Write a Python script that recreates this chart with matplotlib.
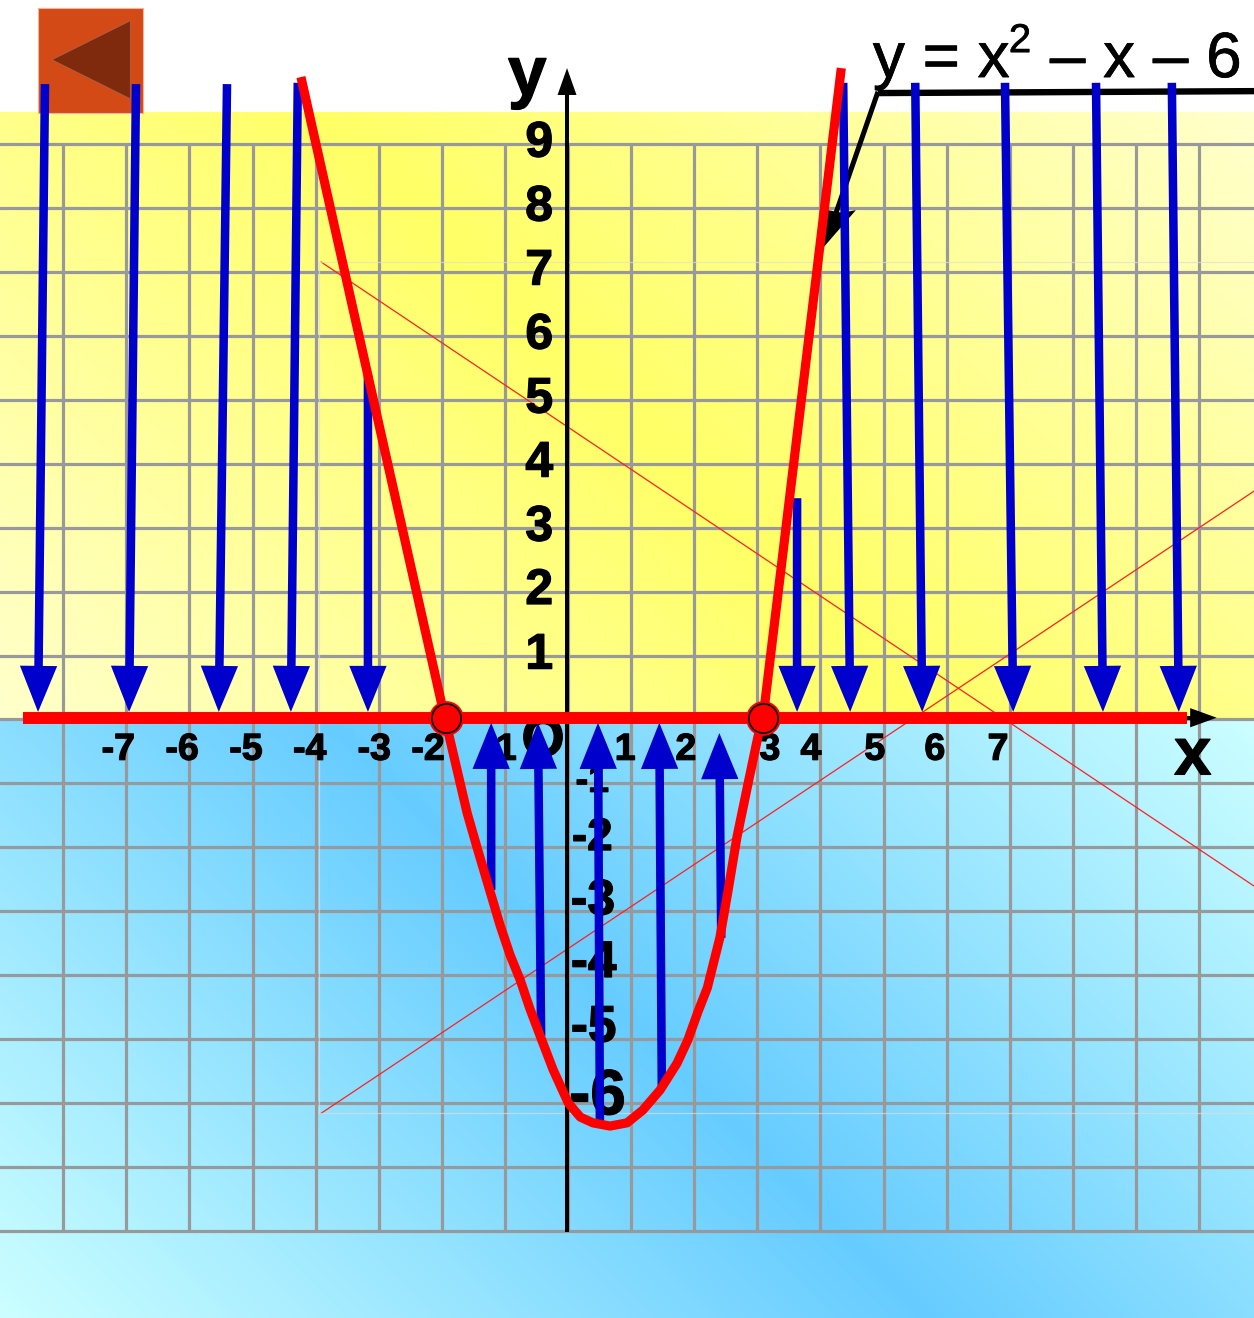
import numpy as np
from matplotlib import pyplot as plt
from matplotlib.patches import Rectangle, Polygon
import matplotlib.patheffects as pe

# curve
curve_x = [-4.21, -1.93, -1.85, -1.72, -1.58, -1.42, -1.27, -1.06, -0.90, -0.74, -0.59, -0.46, -0.22,
           0.02, 0.21, 0.41, 0.68, 0.95, 1.20, 1.47, 1.74, 1.91, 2.07, 2.22, 2.42, 2.55, 2.69, 2.86, 3.02,
           3.10, 4.34]
curve_y = [10.03, 0.0, -0.33, -0.88, -1.47, -2.02, -2.52, -3.22, -3.69, -4.08, -4.52, -4.86, -5.48,
           -6.0, -6.22, -6.31, -6.36, -6.31, -6.11, -5.80, -5.38, -5.02, -4.58, -4.20, -3.41, -2.67, -1.84,
           -1.03, -0.28, 0.0, 10.17]
roots_x = [-1.92, 3.10]
roots_y = [0.02, 0.02]

# blue arrows
down_x0 = [-8.26, -6.82, -5.38, -4.26, -3.15, 3.64, 4.37, 5.51, 6.93, 8.37, 9.57]
down_x1 = [-8.37, -6.93, -5.51, -4.37, -3.15, 3.64, 4.48, 5.62, 7.06, 8.48, 9.68]
down_y0 = [9.92, 9.92, 9.92, 9.94, 5.38, 3.45, 9.94, 9.94, 9.94, 9.94, 9.94]
down_y1 = [0.11] * 11
up_x0 = [-1.20, -0.41, 0.52, 1.50, 2.44]
up_x1 = [-1.20, -0.46, 0.49, 1.46, 2.41]
up_y0 = [-2.67, -4.95, -6.30, -5.77, -3.42]
up_y1 = [-0.06, -0.06, -0.06, -0.06, -0.22]

# labels
x_labels = ['-7', '-6', '-5', '-4', '-3', '-2', '-1', '1', '2', '3', '4', '5', '6', '7']
x_label_pos = [-7.10, -6.09, -5.08, -4.07, -3.05, -2.2, -1.06, 0.92, 1.88, 3.21, 3.86, 4.87, 5.82, 6.82]
y_labels = ['1', '2', '3', '4', '5', '6', '7', '8', '9']
y_label_pos = [0.99, 2.0, 2.99, 3.99, 4.99, 5.99, 6.99, 7.99, 8.99]
neg_labels = ['-1', '-2', '-3', '-4', '-5', '-6']
neg_label_x = [0.40, 0.40, 0.41, 0.42, 0.42, 0.48]
neg_label_y = [-0.98, -1.86, -2.85, -3.82, -4.83, -5.91]
neg_label_size = [27, 33, 36, 37, 37, 46]

plt.rcParams['font.family'] = ['Liberation Sans', 'DejaVu Sans']

fig = plt.figure(figsize=(12.54, 13.18), dpi=100)
ax = fig.add_axes([0, 0, 1, 1])
ax.axis('off')

heavy = [pe.withStroke(linewidth=0.9, foreground='black')]
thin_stroke = [pe.withStroke(linewidth=0.5, foreground='black')]


# diagonal gradient, pale at both ends and strong in the middle
def gradient(pale, strong, h):
    xx, yy = np.meshgrid(np.linspace(0, 1254, 627), np.linspace(0, h, h // 2))
    t = 1 - np.abs(xx + yy - 927) / 927
    t = np.clip(t, 0, 1)[..., None]
    return (np.array(pale) + (np.array(strong) - np.array(pale)) * t) / 255


ax.imshow(gradient((255, 255, 204), (255, 255, 102), 606), extent=(-8.972, 10.870, 0.0, 9.47),
          aspect='auto', zorder=0, origin='lower')
ax.imshow(gradient((204, 255, 255), (102, 204, 255), 599), extent=(-8.972, 10.870, -9.359, 0.0),
          aspect='auto', zorder=0, origin='lower')
ax.set_xlim(-8.972, 10.870)
ax.set_ylim(-9.359, 11.234)

# grid
for gx in range(-8, 11):
    ax.plot([gx * 0.9984 + 0.016] * 2, [-8.02, 8.98], color='#999999', lw=2.3, zorder=1, solid_capstyle='butt')
for gy in range(-8, 10):
    ax.plot([-8.972, 10.870], [gy - 0.02 * (gy > 0)] * 2, color='#999999', lw=2.3, zorder=1)

# thin leftover lines
ax.plot([-3.89, 10.87], [7.14, -2.61], color='#ff2020', lw=0.9, zorder=2)
ax.plot([-3.89, 10.87], [-6.16, 3.56], color='#ff2020', lw=0.9, zorder=2)
ax.plot([10.87, -3.92, -3.92, 10.87], [7.14, 7.14, -6.16, -6.16], color='#dddddd', lw=0.9, alpha=0.7, zorder=2)

# button
ax.add_patch(Rectangle((-8.37, 9.47), 1.66, 1.64, fc='#D34A17', ec='#EDB59C', lw=0.8, zorder=2))
ax.add_patch(Polygon([(-8.15, 10.30), (-6.91, 10.91), (-6.91, 9.69)], fc='#7F2A0C', ec='#A86A50', lw=0.5, zorder=2))

# axes
ax.plot([0, 0], [-8.02, 9.9], color='black', lw=2.9, zorder=3, solid_capstyle='butt')
ax.add_patch(Polygon([(0, 10.17), (-0.15, 9.75), (0.15, 9.75)], fc='black', ec='none', zorder=3))
ax.plot([9.7, 9.95], [0.02, 0.02], color='black', lw=2.9, zorder=3)
ax.add_patch(Polygon([(10.28, 0.02), (9.86, 0.17), (9.86, -0.13)], fc='black', ec='none', zorder=3))

# tick labels
for s, xp in zip(x_labels, x_label_pos):
    ax.text(xp, -0.48, s, fontsize=27, fontweight='bold', ha='center', va='center', zorder=3, path_effects=heavy)
for s, yp in zip(y_labels, y_label_pos):
    ax.text(-0.44, yp, s, fontsize=36, fontweight='bold', ha='center', va='center', zorder=3, path_effects=heavy)
for s, xp, yp, fs in zip(neg_labels, neg_label_x, neg_label_y, neg_label_size):
    ax.text(xp, yp, s, fontsize=fs, fontweight='bold', ha='center', va='center', zorder=3, path_effects=heavy)
ax.text(-0.38, -0.36, 'O', fontsize=40, fontweight='bold', ha='center', va='center', zorder=3, path_effects=heavy)
ax.text(-0.63, 10.03, 'y', fontsize=50, fontweight='bold', ha='center', va='center', zorder=3, path_effects=heavy)
ax.text(9.9, -0.6, 'x', fontsize=48, fontweight='bold', ha='center', va='center', zorder=3, path_effects=heavy)

# equation with its leader
ax.text(4.84, 10.03, 'y = x', fontsize=46, ha='left', va='baseline', zorder=6, path_effects=thin_stroke)
ax.text(6.99, 10.42, '2', fontsize=29, ha='left', va='baseline', zorder=6, path_effects=thin_stroke)
ax.text(7.64, 10.03, '– x – 6', fontsize=46, ha='left', va='baseline', zorder=6, path_effects=thin_stroke)
ax.plot([10.87, 4.92], [9.81, 9.78], color='black', lw=4.6, zorder=3.5, solid_capstyle='butt')
ax.plot([4.92, 4.19], [9.80, 7.72], color='black', lw=3.6, zorder=3.5, solid_capstyle='butt')
ax.add_patch(Polygon([(4.05, 7.36), (4.13, 7.95), (4.35, 7.91), (4.57, 7.95)], fc='black', ec='none', zorder=3.5))

# blue arrows
for x0, x1, y0, y1 in list(zip(down_x0, down_x1, down_y0, down_y1)) + list(zip(up_x0, up_x1, up_y0, up_y1)):
    ax.arrow(x0, y0, x1 - x0, y1 - y0, width=0.135, head_width=0.59, head_length=0.72,
             length_includes_head=True, fc='#0000CC', ec='none', zorder=4)

# red curve and number line
ax.plot([-8.61, 9.81], [0.02, 0.02], color='#FF0000', lw=8.6, zorder=5, solid_capstyle='butt')
ax.plot(curve_x, curve_y, color='#FF0000', lw=6.6, zorder=5, solid_joinstyle='round', solid_capstyle='butt')
ax.plot(roots_x, roots_y, 'o', color='#FF0000', ms=25, mec='none', zorder=5.5)
ax.plot(roots_x, roots_y, 'o', color='#FF0000', ms=21, mec='black', mew=1.2, zorder=5.6)

fig.savefig('out.png', dpi=100)
